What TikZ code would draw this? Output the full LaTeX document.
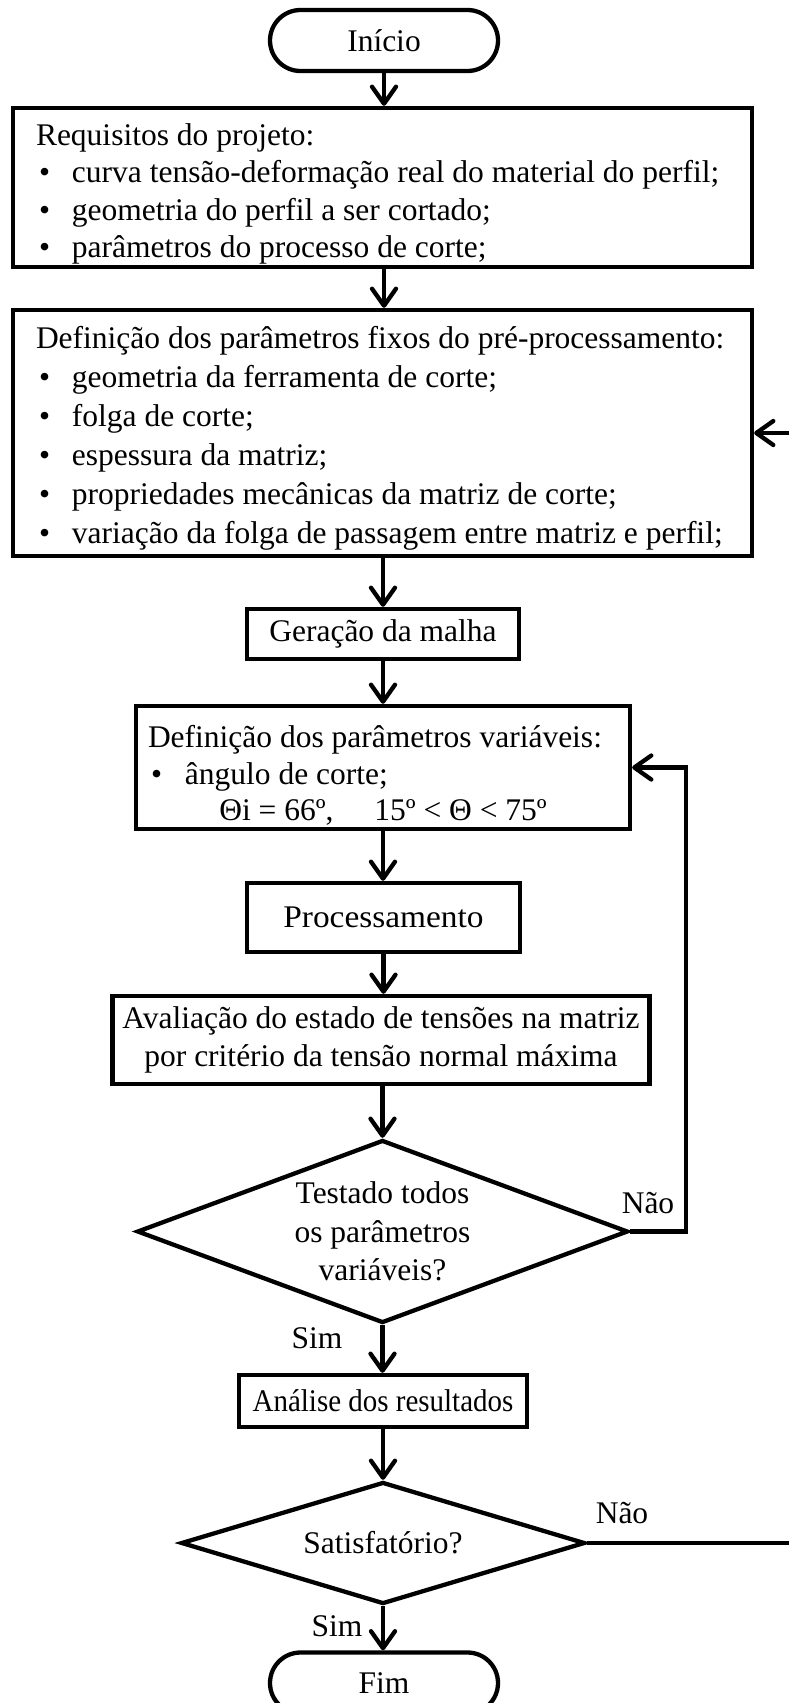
\documentclass[tikz,border=0pt]{standalone}
\usepackage{fontspec}
\usepackage{graphicx}
\setmainfont{Liberation Serif}
\usetikzlibrary{arrows.meta,shapes.geometric,shapes.misc}
\newcommand\bitem[1][36pt]{\makebox[#1][l]{\hspace{3pt}•}}
% #1 height, #2 width, #3 top gap, #4 lines
\newcommand\lsttext[4]{\parbox[c][#1][t]{#2}{\raggedright\vspace*{#3}\strut #4}}
\tikzset{
  base/.style={draw=black, line width=4.3pt, font=\fontsize{31.5}{38.5}\selectfont, fill=white},
  procbox/.style={base, rectangle, inner sep=0pt, align=center},
  listbox/.style={base, rectangle, inner sep=0pt},
  termbox/.style={base, rounded rectangle, inner sep=0pt},
  decbox/.style={base, diamond, inner sep=0pt, align=center},
  arr/.style={line width=4.3pt, -{Straight Barb[length=17pt,width=24pt,round]}},
  lbl/.style={font=\fontsize{31.5}{38.5}\selectfont, inner sep=0pt}
}
\begin{document}
\begin{tikzpicture}[x=1pt,y=-1pt]
\useasboundingbox (0,0) rectangle (789,1703);
\clip (0,0) rectangle (789,1703);
\fill[white] (0,0) rectangle (789,1703);

\node[termbox, minimum width=228pt, minimum height=61pt] (ini) at (384,40.5) {Início};

\node[listbox, inner xsep=23pt, minimum width=739pt, minimum height=159pt,
      font=\fontsize{31.5}{37.5}\selectfont] (req) at (382.5,187.5)
  {\lsttext{159pt}{693pt}{11pt}{%
   \mbox{Requisitos do projeto:}\\
   \mbox{\bitem curva tensão-deformação real do material do perfil;}\\
   \mbox{\bitem geometria do perfil a ser cortado;}\\
   \mbox{\bitem parâmetros do processo de corte;}}};

\node[listbox, inner xsep=23pt, minimum width=739pt, minimum height=246pt,
      font=\fontsize{31.5}{39}\selectfont] (pre) at (382.5,433)
  {\lsttext{246pt}{693pt}{11pt}{%
   \mbox{Definição dos parâmetros fixos do pré-processamento:}\\
   \mbox{\bitem geometria da ferramenta de corte;}\\
   \mbox{\bitem folga de corte;}\\
   \mbox{\bitem espessura da matriz;}\\
   \mbox{\bitem propriedades mecânicas da matriz de corte;}\\
   \mbox{\bitem variação da folga de passagem entre matriz e perfil;}}};

\node[procbox, minimum width=272pt, minimum height=50pt] (ger) at (383,634) {Geração da malha};

\node[listbox, inner xsep=12pt, minimum width=494pt, minimum height=123pt,
      font=\fontsize{31.5}{36.5}\selectfont] (var) at (383,767.5)
  {\lsttext{123pt}{470pt}{16pt}{%
   \mbox{Definição dos parâmetros variáveis:}\\
   \mbox{\bitem[37pt]ângulo de corte;}\\
   \makebox[470pt][c]{Θi = 66º,\hspace{1.3em}15º < Θ < 75º}}};

\node[procbox, minimum width=273pt, minimum height=69pt] (proc) at (383.5,917.5) {\scalebox{1.06}[1]{Processamento}};

\node[procbox, minimum width=537pt, minimum height=88pt] (aval) at (381,1040)
  {Avaliação do estado de tensões na matriz\\por critério da tensão normal máxima};

\node[decbox, aspect=2.68, minimum width=491pt, minimum height=183pt] (dec1) at (382.5,1231.5)
  {Testado todos\\os parâmetros\\variáveis?};

\node[procbox, minimum width=288pt, minimum height=52pt] (ana) at (383,1401) {\scalebox{0.92}[1]{Análise dos resultados}};

\node[decbox, aspect=3.31, minimum width=404pt, minimum height=122pt] (dec2) at (383,1543) {Satisfatório?};

\node[termbox, minimum width=228pt, minimum height=61pt] (fim) at (384,1683) {Fim};

% labels
\node[lbl] (nao1) at (648,1203) {Não};
\node[lbl] (sim1) at (317,1338) {Sim};
\node[lbl] (nao2) at (622,1513) {Não};
\node[lbl] (sim2) at (337,1626) {Sim};

% helper coordinates for loops
\coordinate (r1) at (686,1000);
\coordinate (r2) at (806,1000);

% connectors
\draw[arr] (ini.south) -- (ini.south |- req.north);
\draw[arr] (req.south -| ini.south) -- (ini.south |- pre.north);
\draw[arr] (pre.south -| ger.north) -- (ger.north);
\draw[arr] (ger.south) -- (ger.south |- var.north);
\draw[arr] (var.south) -- (var.south |- proc.north);
\draw[arr] (proc.south) -- (proc.south |- aval.north);
\draw[arr] (aval.south -| dec1.north) -- (dec1.north);
\draw[arr] (dec1.south) -- (dec1.south |- ana.north);
\draw[arr] (ana.south) -- (ana.south |- dec2.north);
\draw[arr] (dec2.south) -- (dec2.south |- fim.north);
\draw[arr] (dec1.east) -| (r1) |- (var.east);
\draw[arr] (dec2.east) -| (r2) |- (pre.east);
\end{tikzpicture}
\end{document}
